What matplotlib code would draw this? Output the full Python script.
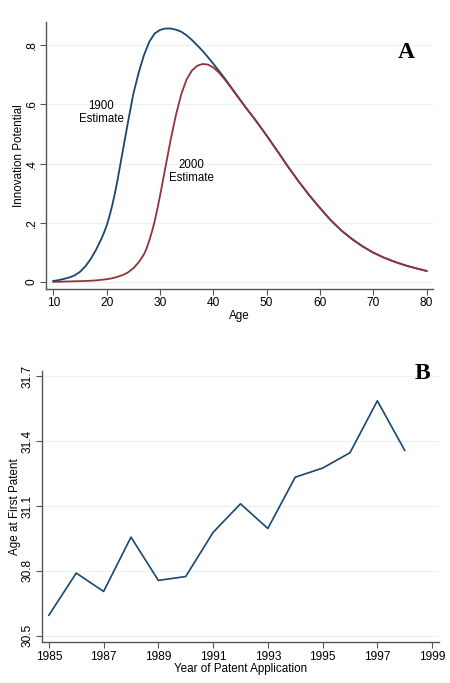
import matplotlib
matplotlib.use("Agg")
import matplotlib.pyplot as plt

# Panel A: innovation potential by age
ages_1900 = [10, 11, 12, 13, 14, 15, 16, 17, 18, 19, 19.5, 20, 20.5, 21, 21.5, 22, 23, 24, 25,
             26, 27, 28, 29, 30, 31, 32, 33, 34, 35, 36, 37, 38, 39, 40, 41, 42, 43, 44, 45,
             46, 48, 50, 52, 54, 56, 58, 60, 62, 64, 66, 68, 70, 72, 74, 76, 78, 80]
pot_1900 = [0.003, 0.006, 0.010, 0.015, 0.022, 0.034, 0.052, 0.077, 0.108, 0.145, 0.166,
            0.190, 0.220, 0.255, 0.295, 0.340, 0.440, 0.540, 0.635, 0.707, 0.767, 0.812,
            0.840, 0.852, 0.857, 0.857, 0.853, 0.846, 0.834, 0.818, 0.800, 0.781, 0.760,
            0.738, 0.715, 0.692, 0.667, 0.642, 0.617,
            0.592, 0.545, 0.495, 0.443, 0.390, 0.340, 0.293, 0.250, 0.209, 0.174, 0.145, 0.120,
            0.099, 0.082, 0.068, 0.056, 0.046, 0.037]

ages_2000 = [10, 12, 14, 16, 18, 20, 21, 22, 23, 24, 25, 26, 27, 27.5, 28, 28.5, 29, 29.5, 30,
             31, 32, 33, 34, 35, 36, 37, 38, 39, 40, 41, 42, 43, 44, 45,
             46, 48, 50, 52, 54, 56, 58, 60, 62, 64, 66, 68, 70, 72, 74, 76, 78, 80]
pot_2000 = [0.000, 0.001, 0.002, 0.003, 0.005, 0.009, 0.012, 0.017, 0.023, 0.032, 0.046, 0.066,
            0.093, 0.114, 0.140, 0.170, 0.205, 0.245, 0.290, 0.385, 0.480, 0.565, 0.635, 0.685,
            0.715, 0.731, 0.737, 0.735, 0.725, 0.709, 0.688, 0.665, 0.640, 0.616,
            0.592, 0.545, 0.495, 0.443, 0.390, 0.340, 0.293, 0.250, 0.209, 0.174, 0.145, 0.120,
            0.099, 0.082, 0.068, 0.056, 0.046, 0.037]

# Panel B: age at first patent by application year
years = [1985, 1986, 1987, 1988, 1989, 1990, 1991, 1992, 1993, 1994, 1995, 1996, 1997, 1998]
age_first = [30.595, 30.79, 30.705, 30.956, 30.756, 30.774, 30.978, 31.11, 30.996, 31.233,
             31.275, 31.346, 31.586, 31.357]

navy = "#1a476f"
maroon = "#90353b"
grid_col = "#eaf2f3"
spine_col = "#555555"

plt.rcParams["font.family"] = ["Liberation Sans", "DejaVu Sans"]

fig = plt.figure(figsize=(4.5, 6.83), dpi=100)
ax1 = fig.add_axes([0.1022, 0.5769, 0.86, 0.3909])
ax2 = fig.add_axes([0.094, 0.0596, 0.882, 0.3976])


def style(ax):
    for s in ["top", "right"]:
        ax.spines[s].set_visible(False)
    for s in ["left", "bottom"]:
        ax.spines[s].set_color(spine_col)
        ax.spines[s].set_linewidth(1.0)
    ax.tick_params(axis="both", direction="out", length=4, width=0.8, color=spine_col,
                   labelsize=8.6, pad=2)
    ax.grid(axis="y", color=grid_col, linewidth=0.9)
    ax.set_axisbelow(True)
    for lab in ax.get_yticklabels():
        lab.set_rotation(90)
        lab.set_va("center")


# Panel A
ax1.plot(ages_1900, pot_1900, color=navy, linewidth=1.3)
ax1.plot(ages_2000, pot_2000, color=maroon, linewidth=1.3)
ax1.set_xlim(8.63, 81.2)
ax1.set_ylim(-0.024, 0.879)
ax1.set_xticks([10, 20, 30, 40, 50, 60, 70, 80])
ax1.set_yticks([0, 0.2, 0.4, 0.6, 0.8])
ax1.set_yticklabels(["0", ".2", ".4", ".6", ".8"])
style(ax1)
ax1.set_xlabel("Age", fontsize=8.4, labelpad=0.5)
ax1.set_ylabel("Innovation Potential", fontsize=8.4, labelpad=0.5)
ax1.text(19.0, 0.572, "1900\nEstimate", fontsize=8.3, ha="center", va="center",
         linespacing=1.15)
ax1.text(35.9, 0.373, "2000\nEstimate", fontsize=8.3, ha="center", va="center",
         linespacing=1.15)
ax1.text(76.1, 0.775, "A", fontsize=17, fontweight="bold", family="Liberation Serif",
         ha="center", va="center")

# Panel B
ax2.plot(years, age_first, color=navy, linewidth=1.2)
ax2.set_xlim(1984.76, 1999.26)
ax2.set_ylim(30.47, 31.725)
ax2.set_xticks(list(range(1985, 2000, 2)))
ax2.set_yticks([30.5, 30.8, 31.1, 31.4, 31.7])
ax2.set_yticklabels(["30.5", "30.8", "31.1", "31.4", "31.7"])
style(ax2)
ax2.set_xlabel("Year of Patent Application", fontsize=8.4, labelpad=0.5)
ax2.set_ylabel("Age at First Patent", fontsize=8.4, labelpad=0.5)
ax2.text(1998.65, 31.713, "B", fontsize=17, fontweight="bold", family="Liberation Serif",
         ha="center", va="center")

fig.savefig("out.png", dpi=100)
